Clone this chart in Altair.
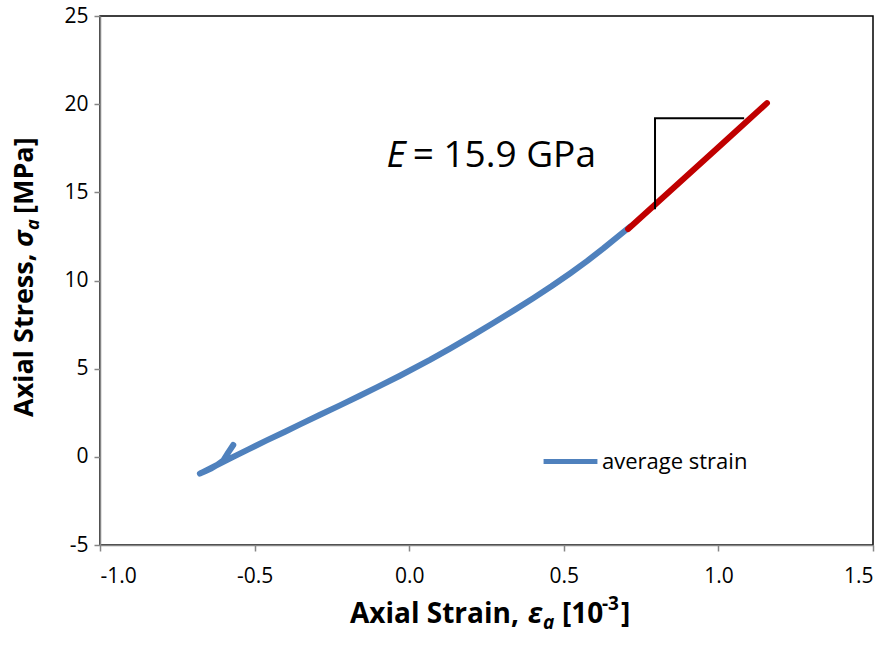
import altair as alt
import pandas as pd

# ---- data ----
blue_strain = [-0.569, -0.585, -0.601, -0.620, -0.639, -0.660, -0.677,
               -0.620, -0.569, -0.520, -0.461, -0.400, -0.353, -0.290, -0.224,
               -0.160, -0.105, -0.030, 0.067, 0.132, 0.200, 0.272, 0.340,
               0.401, 0.460, 0.520, 0.575, 0.628, 0.714]
blue_stress = [0.67, 0.25, -0.20, -0.45, -0.65, -0.82, -0.95,
               -0.45, 0.00, 0.42, 0.93, 1.44, 1.84, 2.37, 2.92,
               3.46, 3.94, 4.60, 5.50, 6.14, 6.83, 7.59, 8.32,
               8.99, 9.67, 10.40, 11.10, 11.82, 13.05]
blue_order = list(range(len(blue_strain)))

red_strain = [0.708, 0.800, 0.900, 1.000, 1.080, 1.157]
red_stress = [12.92, 14.38, 15.97, 17.56, 18.83, 20.06]

tri_strain = [0.795, 0.795, 1.080]
tri_stress = [14.10, 19.20, 19.20]

x_ticks = [-1.0, -0.5, 0.0, 0.5, 1.0, 1.5]
y_ticks = [-5, 0, 5, 10, 15, 20, 25]

series_name = "average strain"
ann_E = "E"
ann_rest = "= 15.9 GPa"
ann_x = [-0.005]
ann_y = [16.45]

FONT = "Open Sans"
BLUE = "#4F81BD"
RED = "#C00000"

blue_df = pd.DataFrame({"strain": blue_strain, "stress": blue_stress,
                        "o": blue_order, "series": series_name})
red_df = pd.DataFrame({"strain": red_strain, "stress": red_stress,
                       "o": list(range(len(red_strain)))})
tri_df = pd.DataFrame({"strain": tri_strain, "stress": tri_stress,
                       "o": list(range(len(tri_strain)))})
ann_df = pd.DataFrame({"strain": ann_x, "stress": ann_y})
one = pd.DataFrame({"k": [0]})

xscale = alt.Scale(domain=[-1.0, 1.5], nice=False, zero=False)
yscale = alt.Scale(domain=[-5, 25], nice=False, zero=False)

hyphen = "replace(datum.label, '\u2212', '-')"
xenc = alt.X("strain:Q", scale=xscale,
             axis=alt.Axis(values=x_ticks, format=".1f", title=None,
                           grid=False, labelExpr=hyphen))
yenc = alt.Y("stress:Q", scale=yscale,
             axis=alt.Axis(values=y_ticks, format="d", title=None,
                           grid=False, labelExpr=hyphen))

blue = alt.Chart(blue_df).mark_line(strokeWidth=6, strokeCap="round",
                                    strokeJoin="round").encode(
    x=xenc, y=yenc, order="o:Q",
    color=alt.Color("series:N",
                    scale=alt.Scale(domain=[series_name], range=[BLUE]),
                    legend=alt.Legend(title=None, orient="none",
                                      legendX=441, legendY=416,
                                      symbolType="stroke",
                                      symbolStrokeWidth=5,
                                      symbolSize=2900,
                                      labelFont=FONT, labelFontSize=22,
                                      labelColor="#000000",
                                      labelOffset=2, padding=0)),
)

red = alt.Chart(red_df).mark_line(strokeWidth=6, strokeCap="round",
                                  color=RED).encode(
    x="strain:Q", y="stress:Q", order="o:Q")

tri = alt.Chart(tri_df).mark_line(strokeWidth=2, color="black",
                                  strokeCap="square").encode(
    x="strain:Q", y="stress:Q", order="o:Q")

textE = alt.Chart(ann_df).mark_text(text=ann_E, align="right",
                                    baseline="alphabetic", dx=-2,
                                    font=FONT, fontSize=37,
                                    fontStyle="italic", color="black").encode(
    x="strain:Q", y="stress:Q")
textRest = alt.Chart(ann_df).mark_text(text=ann_rest, align="left",
                                       baseline="alphabetic", dx=5,
                                       font=FONT, fontSize=37,
                                       color="black").encode(
    x="strain:Q", y="stress:Q")


def piece(txt, px, py, size, italic=False, angle=0):
    kw = dict(text=txt, align="left", baseline="alphabetic", font=FONT,
              fontSize=size, fontWeight="bold", color="black", angle=angle)
    if italic:
        kw["fontStyle"] = "italic"
    return alt.Chart(one).mark_text(**kw).encode(
        x=alt.value(px), y=alt.value(py))


# x-axis title: Axial Strain, ε_a [10^-3]
xt = [
    piece("Axial Strain,", 250, 607, 28),
    piece("\u03b5", 428, 607, 28, italic=True),
    piece("a", 443, 613, 19, italic=True),
    piece("[10", 462, 607, 28),
    piece("-3", 502, 594, 19),
    piece("]", 521, 607, 28),
]
# y-axis title: Axial Stress, σ_a [MPa]  (rotated, reading upward)
yt = [
    piece("Axial Stress,", -67, 401, 27, angle=270),
    piece("\u03c3", -67, 231, 27, italic=True, angle=270),
    piece("a", -61, 214, 18, italic=True, angle=270),
    piece("[MPa]", -67, 198, 27, angle=270),
]

chart = alt.layer(blue, red, tri, textE, textRest, *xt, *yt).properties(
    width=773, height=529,
    autosize=alt.AutoSizeParams(type="none"),
    padding={"left": 100, "top": 16, "right": 21, "bottom": 104},
    background="white",
).configure_view(
    stroke="black", strokeWidth=1.5
).configure_axis(
    domainColor="#868686", domainWidth=1.5,
    tickColor="#868686", tickWidth=1.5, tickSize=6,
    labelFont=FONT, labelFontSize=21, labelColor="#000000",
).configure_axisX(labelPadding=14).configure_axisY(labelPadding=6)

chart.save("out.html", embed_options={"renderer": "svg", "actions": False})
